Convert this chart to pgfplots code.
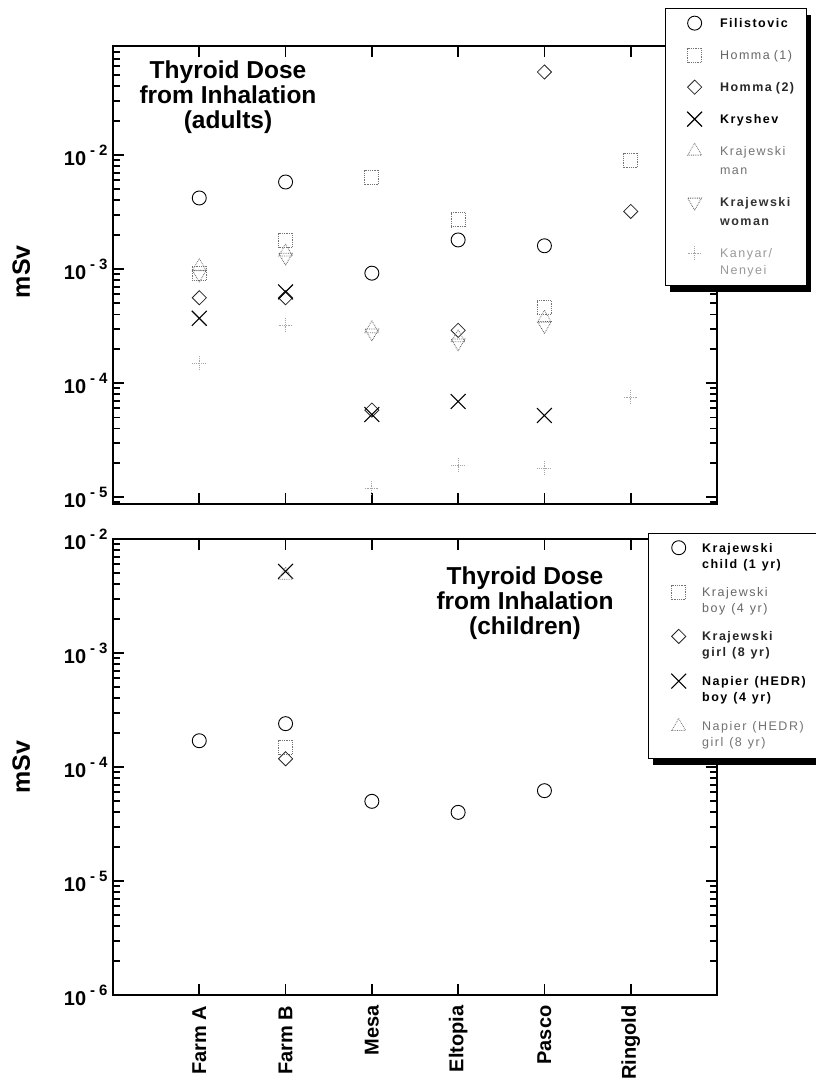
\documentclass[border=0pt]{standalone}
\usepackage{fontspec}
\setmainfont{Liberation Sans}
\newfontfamily\lgfont[LetterSpace=12]{Liberation Sans}
\usepackage{pgfplots}
\pgfplotsset{compat=1.18}

% tick label of the form 10^{- n}
\newcommand{\dexp}[1]{\textbf{10\hspace{4pt}\raisebox{0.5em}{\fontsize{15}{15}\selectfont -\hspace{4pt}#1}}}
% legend text, one or two lines, in a box of fixed width
\newcommand{\legtext}[3][65pt]{\makebox[#1][l]{\textcolor{#2}{\begin{tabular}[t]{@{}l@{}}#3\end{tabular}}}}

\begin{document}
\begin{tikzpicture}
\path[use as bounding box] (0pt,0pt) rectangle (816pt,1088pt);

% ---------------- adults ----------------
\begin{axis}[
  at={(113pt,584pt)}, anchor=south west,
  scale only axis, width=604pt, height=458pt,
  xmin=0, xmax=7, xtick={1,2,3,4,5,6}, xticklabels={},
  ymode=log, ymin=8.7e-6, ymax=0.0904,
  ytick={1e-5,1e-4,1e-3,1e-2},
  yticklabels={\dexp{5},\dexp{4},\dexp{3},\dexp{2}},
  minor ytick={9e-6,2e-5,3e-5,4e-5,5e-5,6e-5,7e-5,8e-5,9e-5,
    2e-4,3e-4,4e-4,5e-4,6e-4,7e-4,8e-4,9e-4,
    2e-3,3e-3,4e-3,5e-3,6e-3,7e-3,8e-3,9e-3,
    2e-2,3e-2,4e-2,5e-2,6e-2,7e-2,8e-2,9e-2},
  tick align=inside,
  major tick length=11pt, minor tick length=7pt,
  tick style={black, line width=1.8pt},
  axis line style={line width=2.4pt},
  yticklabel style={font=\fontsize{20}{24}\selectfont, xshift=-2pt},
  ylabel={\textbf{mSv}},
  ylabel style={font=\fontsize{25}{28}\selectfont, at={(-0.152,0.507)}, anchor=center},
  clip=false,
  legend image post style={yshift=4.5pt},
  legend style={name=legA, at={(0.914,1.083)}, anchor=north west,
    draw=black, line width=1.3pt, fill=white,
    cells={anchor=base west},
    inner xsep=21.5pt, inner ysep=5pt, row sep=12pt, column sep=18pt,
    nodes={inner sep=0pt, text depth=, line width=0.8pt},
    font=\lgfont\fontsize{12.5}{20}\selectfont},
]
\addplot[only marks, mark=o, mark size=7pt, mark options={draw=black, line width=0.9pt, solid}]
  coordinates {(1,4.2e-3) (2,5.8e-3) (3,9.2e-4) (4,1.8e-3) (5,1.6e-3)};
\addlegendentry{\legtext{black}{\textbf{Filistovic}}}
\addplot[only marks, mark=square, mark size=7pt, mark options={draw=black!55, line width=0.8pt, densely dotted}]
  coordinates {(1,9.2e-4) (2,1.8e-3) (3,6.4e-3) (4,2.7e-3) (5,4.6e-4) (6,9.0e-3)};
\addlegendentry{\legtext{black!60}{Homma\hspace{4pt}(1)}}
\addplot[only marks, mark=square, mark size=5pt, mark options={draw=black!85, line width=0.8pt, solid, rotate=45}]
  coordinates {(1,5.6e-4) (2,5.6e-4) (3,5.8e-5) (4,2.9e-4) (5,5.35e-2) (6,3.2e-3)};
\addlegendentry{\legtext{black!85}{\textbf{Homma\hspace{4pt}(2)}}}
\addplot[only marks, mark=x, mark size=10.5pt, mark options={draw=black, line width=1.1pt, solid}]
  coordinates {(1,3.7e-4) (2,6.3e-4) (3,5.3e-5) (4,6.9e-5) (5,5.2e-5)};
\addlegendentry{\legtext{black}{\textbf{Kryshev}}}
\addplot[only marks, mark=triangle, mark size=8pt, mark options={draw=black!55, line width=0.8pt, densely dotted}]
  coordinates {(1,1.05e-3) (2,1.41e-3) (3,3.0e-4) (4,2.5e-4) (5,3.7e-4)};
\addlegendentry{\legtext{black!55}{Krajewski\\[-1pt]man}}
\addplot[only marks, mark=triangle, mark size=8pt, mark options={draw=black!65, line width=0.8pt, densely dotted, rotate=180}]
  coordinates {(1,9.0e-4) (2,1.27e-3) (3,2.75e-4) (4,2.25e-4) (5,3.2e-4)};
\addlegendentry{\legtext{black!80}{\textbf{Krajewski}\\[-1pt]\textbf{woman}}}
\addplot[only marks, mark=+, mark size=7pt, mark options={draw=black!35, line width=0.8pt, densely dotted}]
  coordinates {(1,1.5e-4) (2,3.2e-4) (3,1.2e-5) (4,1.9e-5) (5,1.8e-5) (6,7.5e-5)};
\addlegendentry{\legtext{black!40}{Kanyar/\\[-3pt]Nenyei}}
\end{axis}
% offset shadow of the legend frame
\fill[black] ([yshift=-7pt]legA.north east) rectangle ([xshift=4pt,yshift=-6pt]legA.south east);
\fill[black] ([xshift=5pt]legA.south west) rectangle ([xshift=4pt,yshift=-6pt]legA.south east);

% ---------------- children ----------------
\begin{axis}[
  at={(113pt,93pt)}, anchor=south west,
  scale only axis, width=604pt, height=456pt,
  xmin=0, xmax=7, xtick={1,2,3,4,5,6},
  xticklabels={Farm A,Farm B,Mesa,Eltopia,Pasco,Ringold},
  xticklabel style={rotate=90, anchor=east, font=\fontsize{20}{22}\selectfont\bfseries, xshift=-7pt},
  ymode=log, ymin=1e-6, ymax=1e-2,
  ytick={1e-6,1e-5,1e-4,1e-3,1e-2},
  yticklabels={\dexp{6},\dexp{5},\dexp{4},\dexp{3},\dexp{2}},
  minor ytick={2e-6,3e-6,4e-6,5e-6,6e-6,7e-6,8e-6,9e-6,
    2e-5,3e-5,4e-5,5e-5,6e-5,7e-5,8e-5,9e-5,
    2e-4,3e-4,4e-4,5e-4,6e-4,7e-4,8e-4,9e-4,
    2e-3,3e-3,4e-3,5e-3,6e-3,7e-3,8e-3,9e-3},
  tick align=inside,
  major tick length=11pt, minor tick length=7pt,
  tick style={black, line width=1.8pt},
  axis line style={line width=2.4pt},
  yticklabel style={font=\fontsize{20}{24}\selectfont, xshift=-2pt},
  ylabel={\textbf{mSv}},
  ylabel style={font=\fontsize{25}{28}\selectfont, at={(-0.152,0.5)}, anchor=center},
  clip=false,
  legend image post style={yshift=4.5pt},
  legend style={name=legB, at={(0.886,1.013)}, anchor=north west,
    draw=black, line width=1.3pt, fill=white,
    cells={anchor=base west},
    inner xsep=22.5pt, inner ysep=7pt, row sep=12pt, column sep=16pt,
    nodes={inner sep=0pt, text depth=, line width=0.8pt},
    font=\lgfont\fontsize{12.5}{16}\selectfont},
]
\addplot[only marks, mark=o, mark size=7pt, mark options={draw=black, line width=0.9pt, solid}]
  coordinates {(1,1.7e-4) (2,2.4e-4) (3,5.0e-5) (4,4.0e-5) (5,6.2e-5)};
\addlegendentry{\legtext[100pt]{black}{\textbf{Krajewski}\\\textbf{child\hspace{6pt}(1\hspace{6pt}yr)}}}
\addplot[only marks, mark=square, mark size=7pt, mark options={draw=black!55, line width=0.8pt, densely dotted}]
  coordinates {(2,1.5e-4)};
\addlegendentry{\legtext[100pt]{black!60}{Krajewski\\boy\hspace{6pt}(4\hspace{6pt}yr)}}
\addplot[only marks, mark=square, mark size=5pt, mark options={draw=black!85, line width=0.8pt, solid, rotate=45}]
  coordinates {(2,1.18e-4)};
\addlegendentry{\legtext[100pt]{black!85}{\textbf{Krajewski}\\\textbf{girl\hspace{6pt}(8\hspace{6pt}yr)}}}
\addplot[only marks, mark=x, mark size=10.5pt, mark options={draw=black, line width=1.1pt, solid}]
  coordinates {(2,5.2e-3)};
\addlegendentry{\legtext[100pt]{black}{\textbf{Napier\hspace{6pt}(HEDR)}\\\textbf{boy\hspace{6pt}(4\hspace{6pt}yr)}}}
\addplot[only marks, mark=triangle, mark size=8pt, mark options={draw=black!55, line width=0.8pt, densely dotted}]
  coordinates {(2,4.8e-3)};
\addlegendentry{\legtext[100pt]{black!55}{Napier\hspace{6pt}(HEDR)\\girl\hspace{6pt}(8\hspace{6pt}yr)}}
\end{axis}
\fill[black] ([yshift=-7pt]legB.north east) rectangle ([xshift=4pt,yshift=-6pt]legB.south east);
\fill[black] ([xshift=5pt]legB.south west) rectangle ([xshift=4pt,yshift=-6pt]legB.south east);

% panel titles
\node[font=\fontsize{24.5}{25}\selectfont\bfseries, align=center, inner sep=0pt]
  at (228pt,991pt) {Thyroid Dose\\from Inhalation\\(adults)};
\node[font=\fontsize{24.5}{25}\selectfont\bfseries, align=center, inner sep=0pt]
  at (525pt,485pt) {Thyroid Dose\\from Inhalation\\(children)};
\end{tikzpicture}
\end{document}
